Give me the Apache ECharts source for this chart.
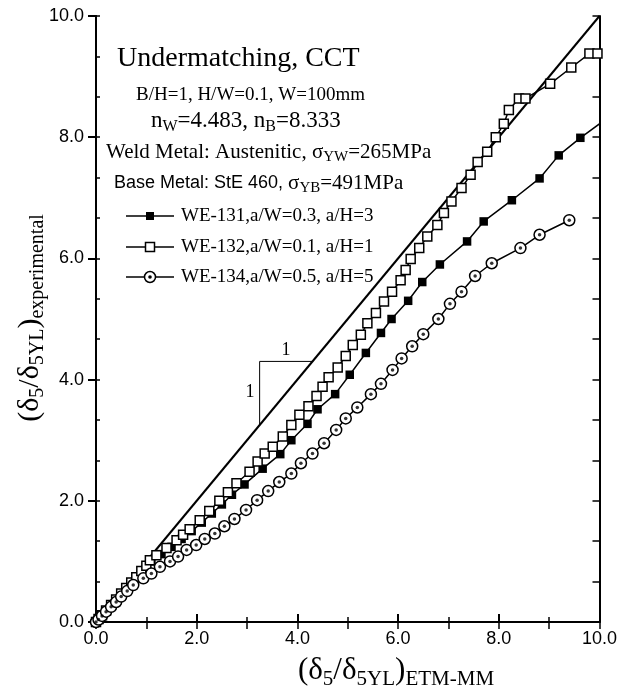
<!DOCTYPE html>
<html><head><meta charset="utf-8">
<script src="https://cdn.jsdelivr.net/npm/echarts@6/dist/echarts.min.js"></script>
<style>html,body{margin:0;padding:0;background:#fff}#c{width:620px;height:689px}</style>
</head><body><div id="c"></div>
<script>
// ---- data ----
const we131 = [[0,0],[0.05,0.05],[0.12,0.11],[0.2,0.19],[0.3,0.28],[0.4,0.37],[0.5,0.46],[0.6,0.55],[0.7,0.64],[0.8,0.73],[0.9,0.82],[1.0,0.91],[1.1,1.0],[1.3,1.12],[1.5,1.24],[1.7,1.37],[1.9,1.5],[2.1,1.64],[2.3,1.79],[2.5,1.94],[2.7,2.1],[2.95,2.27],[3.31,2.53],[3.66,2.77],[3.88,3.0],[4.2,3.27],[4.4,3.51],[4.75,3.76],[5.04,4.08],[5.36,4.44],[5.66,4.77],[5.87,5.0],[6.2,5.3],[6.48,5.61],[6.83,5.9],[7.37,6.28],[7.7,6.61],[8.26,6.96],[8.81,7.32],[9.19,7.7],[9.62,7.99],[10.1,8.28]];
const we132 = [[0,0],[0.05,0.05],[0.12,0.11],[0.2,0.19],[0.3,0.28],[0.4,0.37],[0.5,0.47],[0.6,0.56],[0.7,0.65],[0.8,0.74],[0.9,0.84],[1.0,0.93],[1.07,1.02],[1.2,1.1],[1.4,1.22],[1.6,1.35],[1.73,1.44],[1.86,1.53],[2.06,1.68],[2.25,1.83],[2.45,2.0],[2.62,2.14],[2.79,2.29],[3.05,2.48],[3.21,2.65],[3.35,2.78],[3.51,2.89],[3.71,3.06],[3.88,3.25],[4.04,3.42],[4.22,3.56],[4.38,3.73],[4.5,3.88],[4.62,4.04],[4.8,4.2],[4.96,4.39],[5.1,4.57],[5.26,4.74],[5.39,4.93],[5.56,5.1],[5.72,5.29],[5.88,5.45],[6.05,5.64],[6.15,5.81],[6.25,5.99],[6.42,6.17],[6.58,6.36],[6.78,6.55],[6.91,6.75],[7.06,6.94],[7.26,7.16],[7.44,7.38],[7.58,7.59],[7.77,7.76],[7.94,8.0],[8.1,8.22],[8.2,8.45],[8.4,8.64],[8.53,8.64],[9.02,8.88],[9.44,9.15],[9.8,9.38],[9.96,9.38]];
const we134 = [[0,0],[0.05,0.04],[0.12,0.1],[0.2,0.17],[0.3,0.25],[0.4,0.33],[0.5,0.42],[0.62,0.51],[0.74,0.61],[0.94,0.72],[1.1,0.8],[1.27,0.91],[1.47,1.0],[1.63,1.08],[1.8,1.19],[1.99,1.27],[2.16,1.37],[2.36,1.46],[2.55,1.58],[2.75,1.7],[2.98,1.85],[3.2,2.01],[3.42,2.16],[3.64,2.31],[3.88,2.45],[4.07,2.62],[4.3,2.78],[4.53,2.95],[4.77,3.17],[4.96,3.36],[5.19,3.54],[5.46,3.76],[5.66,3.93],[5.89,4.16],[6.07,4.35],[6.28,4.55],[6.5,4.75],[6.8,5.0],[7.03,5.25],[7.26,5.45],[7.53,5.71],[7.86,5.92],[8.43,6.17],[8.81,6.39],[9.4,6.63]];
const identityLine = [[0,0],[10,10]];
const slopeTriangle = [[3.25,3.25],[3.25,4.3],[4.3,4.3]];
const seriesNames = ['WE-131,a/W=0.3, a/H=3','WE-132,a/W=0.1, a/H=1','WE-134,a/W=0.5, a/H=5'];
const xMin = 0, xMax = 10, xStep = 2;
const yMin = 0, yMax = 10, yStep = 2;

const SERIF = '"Liberation Serif","Times New Roman",serif';
const SANS = '"Liberation Sans",Arial,sans-serif';
const fmt = v => v.toFixed(1);
const axisLine = {show:true, lineStyle:{color:'#000', width:2}};

const chart = echarts.init(document.getElementById('c'), null, {renderer:'canvas'});

function rt(fs, extra){ return Object.assign({fontSize:fs, fontFamily:SERIF, fill:'#000', color:'#000'}, extra||{}); }

const graphics = [
  {type:'text', x:117, y:59, style:{text:'Undermatching, CCT', font:'28px '+SERIF, fill:'#000', align:'left', verticalAlign:'middle'}},
  {type:'text', x:136, y:95, style:{text:'B/H=1, H/W=0.1, W=100mm', font:'19px '+SERIF, fill:'#000', align:'left', verticalAlign:'middle'}},
  {type:'text', x:151, y:121, style:{text:'{m|n}{s|W}{m|=4.483, n}{s|B}{m|=8.333}', align:'left', verticalAlign:'middle',
     rich:{m:rt(23,{lineHeight:28}), s:rt(16,{lineHeight:16, verticalAlign:'bottom'})}}},
  {type:'text', x:106, y:152, style:{text:'{m|Weld Metal: Austenitic, σ}{s|YW}{m|=265MPa}', align:'left', verticalAlign:'middle',
     rich:{m:rt(21,{lineHeight:26}), s:rt(15,{lineHeight:15, verticalAlign:'bottom'})}}},
  {type:'text', x:114, y:183, style:{text:'{a|Base Metal: StE 460, }{m|σ}{s|YB}{m|=491MPa}', align:'left', verticalAlign:'middle',
     rich:{a:rt(18,{fontFamily:SANS, lineHeight:26}), m:rt(21,{lineHeight:26}), s:rt(15,{lineHeight:15, verticalAlign:'bottom'})}}},
  // slope triangle labels
  {type:'text', x:286, y:350, style:{text:'1', font:'18px '+SERIF, fill:'#000', align:'center', verticalAlign:'middle'}},
  {type:'text', x:250, y:392, style:{text:'1', font:'18px '+SERIF, fill:'#000', align:'center', verticalAlign:'middle'}},
  // axis titles
  {type:'text', x:396, y:671, style:{text:'{m|(δ}{s|5}{m|/δ}{s|5YL}{m|)}{s|ETM-MM}', align:'center', verticalAlign:'middle',
     rich:{m:rt(31,{lineHeight:38}), s:rt(21,{lineHeight:21, verticalAlign:'bottom'})}}},
  {type:'text', x:30, y:318, rotation:Math.PI/2, style:{text:'{m|(δ}{s|5}{m|/δ}{s|5YL}{m|)}{s|experimental}', align:'center', verticalAlign:'middle',
     rich:{m:rt(30,{lineHeight:36}), s:rt(20,{lineHeight:20, verticalAlign:'bottom'})}}}
];
// legend (manual)
const legendY = [216, 247, 277];
legendY.forEach((y, i) => {
  graphics.push({type:'line', shape:{x1:126, y1:y, x2:174, y2:y}, style:{stroke:'#000', lineWidth:1.5}});
  if (i === 0) graphics.push({type:'rect', shape:{x:146, y:y-4, width:8, height:8}, style:{fill:'#000'}});
  if (i === 1) graphics.push({type:'rect', shape:{x:145.5, y:y-4.5, width:9, height:9}, style:{fill:'#fff', stroke:'#000', lineWidth:1.5}});
  if (i === 2) {
    graphics.push({type:'circle', shape:{cx:150, cy:y, r:5.5}, style:{fill:'#fff', stroke:'#000', lineWidth:1.5}});
    graphics.push({type:'circle', shape:{cx:150, cy:y, r:1.8}, style:{fill:'#000'}});
  }
  graphics.push({type:'text', x:181, y:y, style:{text:seriesNames[i], font:'19px '+SERIF, fill:'#000', align:'left', verticalAlign:'middle'}});
});

const option = {
  backgroundColor:'#fff',
  animation:false,
  grid:{left:96, right:19, top:16, bottom:67, containLabel:false},
  xAxis:[
    {type:'value', min:xMin, max:xMax, interval:xStep, position:'bottom', axisLine,
     axisTick:{show:true, inside:true, length:8, lineStyle:{color:'#000', width:2}},
     minorTick:{show:true, splitNumber:2, length:5, lineStyle:{color:'#000', width:1.5}},
     splitLine:{show:false}, minorSplitLine:{show:false},
     axisLabel:{formatter:fmt, color:'#000', fontSize:18, fontFamily:SANS, margin:8}},
    {type:'value', min:xMin, max:xMax, interval:1, position:'top', axisLine,
     axisTick:{show:true, inside:true, length:7, lineStyle:{color:'#000', width:1.5}},
     splitLine:{show:false}, axisLabel:{show:false}}
  ],
  yAxis:[
    {type:'value', min:yMin, max:yMax, interval:yStep, position:'left', axisLine,
     axisTick:{show:true, inside:false, length:8, lineStyle:{color:'#000', width:2}},
     splitLine:{show:false},
     axisLabel:{formatter:fmt, color:'#000', fontSize:18, fontFamily:SANS, margin:12}},
    {type:'value', min:yMin, max:yMax, interval:2/3, position:'left', axisLine,
     axisTick:{show:true, inside:true, length:4, lineStyle:{color:'#000', width:1.5}},
     splitLine:{show:false}, axisLabel:{show:false}},
    {type:'value', min:yMin, max:yMax, interval:2/3, position:'right', axisLine,
     axisTick:{show:true, inside:true, length:7, lineStyle:{color:'#000', width:1.5}},
     splitLine:{show:false}, axisLabel:{show:false}}
  ],
  series:[
    {type:'line', data:identityLine, symbol:'none', lineStyle:{color:'#000', width:2}, z:2, silent:true},
    {type:'line', data:slopeTriangle, symbol:'none', lineStyle:{color:'#000', width:1}, z:2, silent:true},
    {name:seriesNames[0], type:'line', data:we131, symbol:'rect', symbolSize:8.5, clip:true,
     itemStyle:{color:'#000'}, lineStyle:{color:'#000', width:1.5}, z:3},
    {name:seriesNames[1], type:'line', data:we132, symbol:'rect', symbolSize:9, clip:true,
     itemStyle:{color:'#fff', borderColor:'#000', borderWidth:1.5}, lineStyle:{color:'#000', width:1.5}, z:4},
    {name:seriesNames[2], type:'line', data:we134, symbol:'circle', symbolSize:11, clip:true,
     itemStyle:{color:'#fff', borderColor:'#000', borderWidth:1.5}, lineStyle:{color:'#000', width:1.5}, z:5},
    {type:'scatter', data:we134, symbol:'circle', symbolSize:3.5, itemStyle:{color:'#000'}, z:6, silent:true}
  ],
  graphic:graphics
};
chart.setOption(option);
</script>
</body></html>
